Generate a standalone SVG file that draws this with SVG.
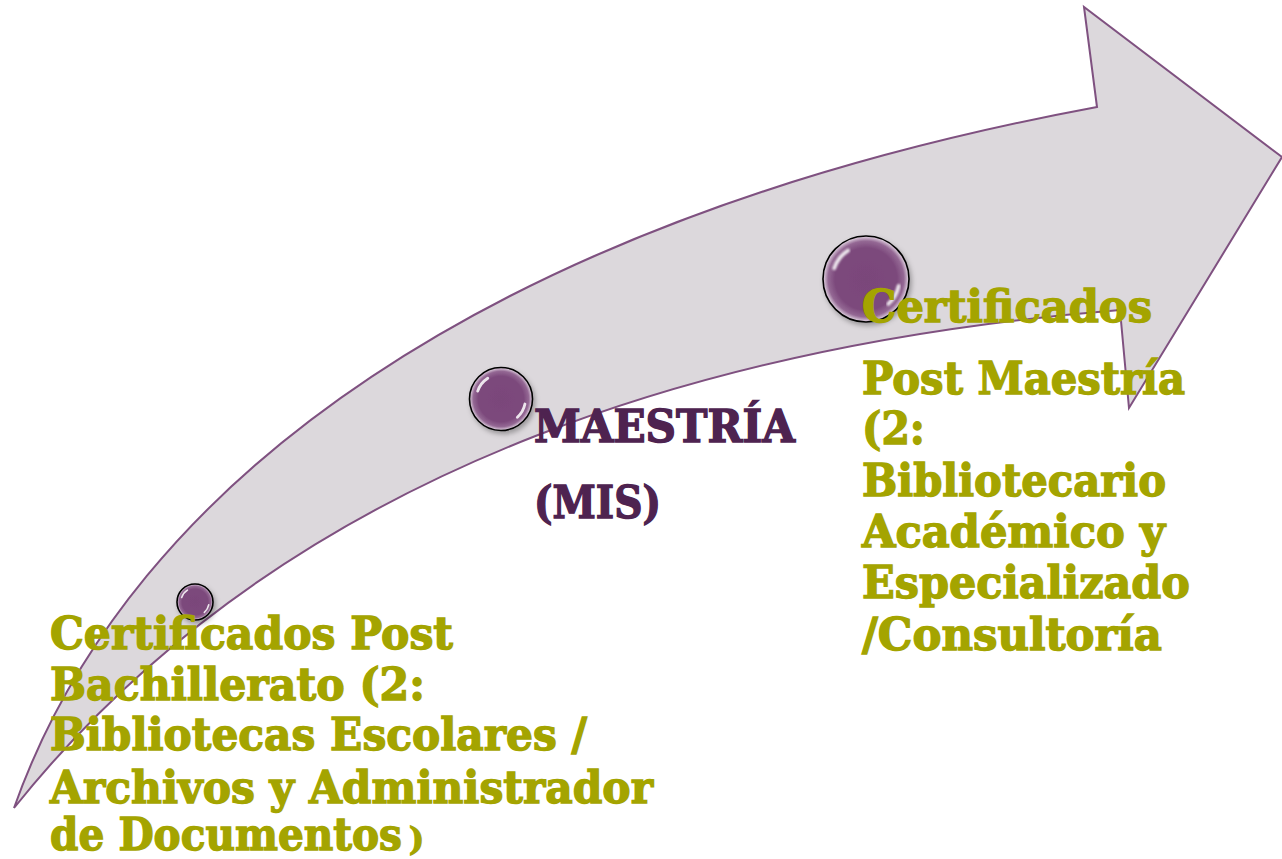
<svg xmlns="http://www.w3.org/2000/svg" xmlns:xlink="http://www.w3.org/1999/xlink" width="1282" height="859" viewBox="0 0 1282 859">
  <style>
    .arrow { fill: #dcd8dc; stroke: #7f5180; stroke-width: 2; stroke-linejoin: miter; }
    .olive { font-family: "DejaVu Serif", "Liberation Serif", serif; font-weight: bold; font-size: 44px; fill: #a4a400; stroke: #a4a400; stroke-width: 1.4px; }
    .plum { font-family: "DejaVu Serif", "Liberation Serif", serif; font-weight: bold; font-size: 44px; fill: #4e2350; stroke: #4e2350; stroke-width: 1.4px; }
    .small { font-size: 32px; }
    .hl { fill: none; stroke: #ffffff; stroke-width: 0.09; stroke-linecap: round; opacity: 0.85; }
  </style>
  <defs>
    <radialGradient id="sphereGrad" cx="50%" cy="50%" r="50%">
      <stop offset="0%" stop-color="#7a467a"/>
      <stop offset="72%" stop-color="#7c497c"/>
      <stop offset="88%" stop-color="#946894"/>
      <stop offset="100%" stop-color="#e6dae6"/>
    </radialGradient>
    <filter id="shadow" x="-30%" y="-30%" width="170%" height="170%">
      <feDropShadow dx="2" dy="3" stdDeviation="2.5" flood-color="#000000" flood-opacity="0.3"/>
    </filter>
    <filter id="soft" x="-20%" y="-20%" width="140%" height="140%">
      <feGaussianBlur stdDeviation="0.02"/>
    </filter>
    <g id="sphere">
      <circle cx="0" cy="0" r="1" fill="url(#sphereGrad)" stroke="#000000" stroke-width="1.6" vector-effect="non-scaling-stroke"/>
      <path class="hl" d="M-0.74,-0.25 A0.78,0.78 0 0 1 -0.42,-0.66" filter="url(#soft)"/>
      <path class="hl" d="M0.76,0.16 A0.78,0.78 0 0 1 0.52,0.58" filter="url(#soft)"/>
    </g>
  </defs>

  <g id="connectors">
    <path class="arrow" d="M14,808 C130,480 490,220 1097,107 L1084,7 L1282,157 L1129,408 L1120,310 C750,340 300,450 14,808 Z"/>
  </g>

  <g id="node-sphere-1" filter="url(#shadow)">
    <use xlink:href="#sphere" transform="translate(195,602) scale(18)"/>
  </g>
  <g id="node-sphere-2" filter="url(#shadow)">
    <use xlink:href="#sphere" transform="translate(501,399) scale(31.5)"/>
  </g>
  <g id="node-sphere-3" filter="url(#shadow)">
    <use xlink:href="#sphere" transform="translate(866,279) scale(43)"/>
  </g>

  <g id="node-post-bachillerato">
    <text class="olive" x="50" y="649" textLength="403" lengthAdjust="spacingAndGlyphs">Certificados Post</text>
    <text class="olive" x="50" y="700" textLength="375" lengthAdjust="spacingAndGlyphs">Bachillerato (2:</text>
    <text class="olive" x="50" y="750" textLength="537" lengthAdjust="spacingAndGlyphs">Bibliotecas Escolares /</text>
    <text class="olive" x="50" y="803" textLength="603" lengthAdjust="spacingAndGlyphs">Archivos y Administrador</text>
    <text class="olive" x="50" y="850" textLength="352" lengthAdjust="spacingAndGlyphs">de Documentos</text>
    <text class="olive small" x="409" y="850">)</text>
  </g>

  <g id="node-maestria">
    <text class="plum" x="534" y="442" textLength="261" lengthAdjust="spacingAndGlyphs">MAESTRÍA</text>
    <text class="plum" x="534" y="518" textLength="127" lengthAdjust="spacingAndGlyphs">(MIS)</text>
  </g>

  <g id="node-post-maestria">
    <text class="olive" x="862" y="322" textLength="290" lengthAdjust="spacingAndGlyphs">Certificados</text>
    <text class="olive" x="862" y="394" textLength="323" lengthAdjust="spacingAndGlyphs">Post Maestría</text>
    <text class="olive" x="862" y="444" textLength="63" lengthAdjust="spacingAndGlyphs">(2:</text>
    <text class="olive" x="862" y="496" textLength="304" lengthAdjust="spacingAndGlyphs">Bibliotecario</text>
    <text class="olive" x="862" y="547" textLength="303" lengthAdjust="spacingAndGlyphs">Académico y</text>
    <text class="olive" x="862" y="598" textLength="328" lengthAdjust="spacingAndGlyphs">Especializado</text>
    <text class="olive" x="862" y="650" textLength="300" lengthAdjust="spacingAndGlyphs">/Consultoría</text>
  </g>
</svg>
